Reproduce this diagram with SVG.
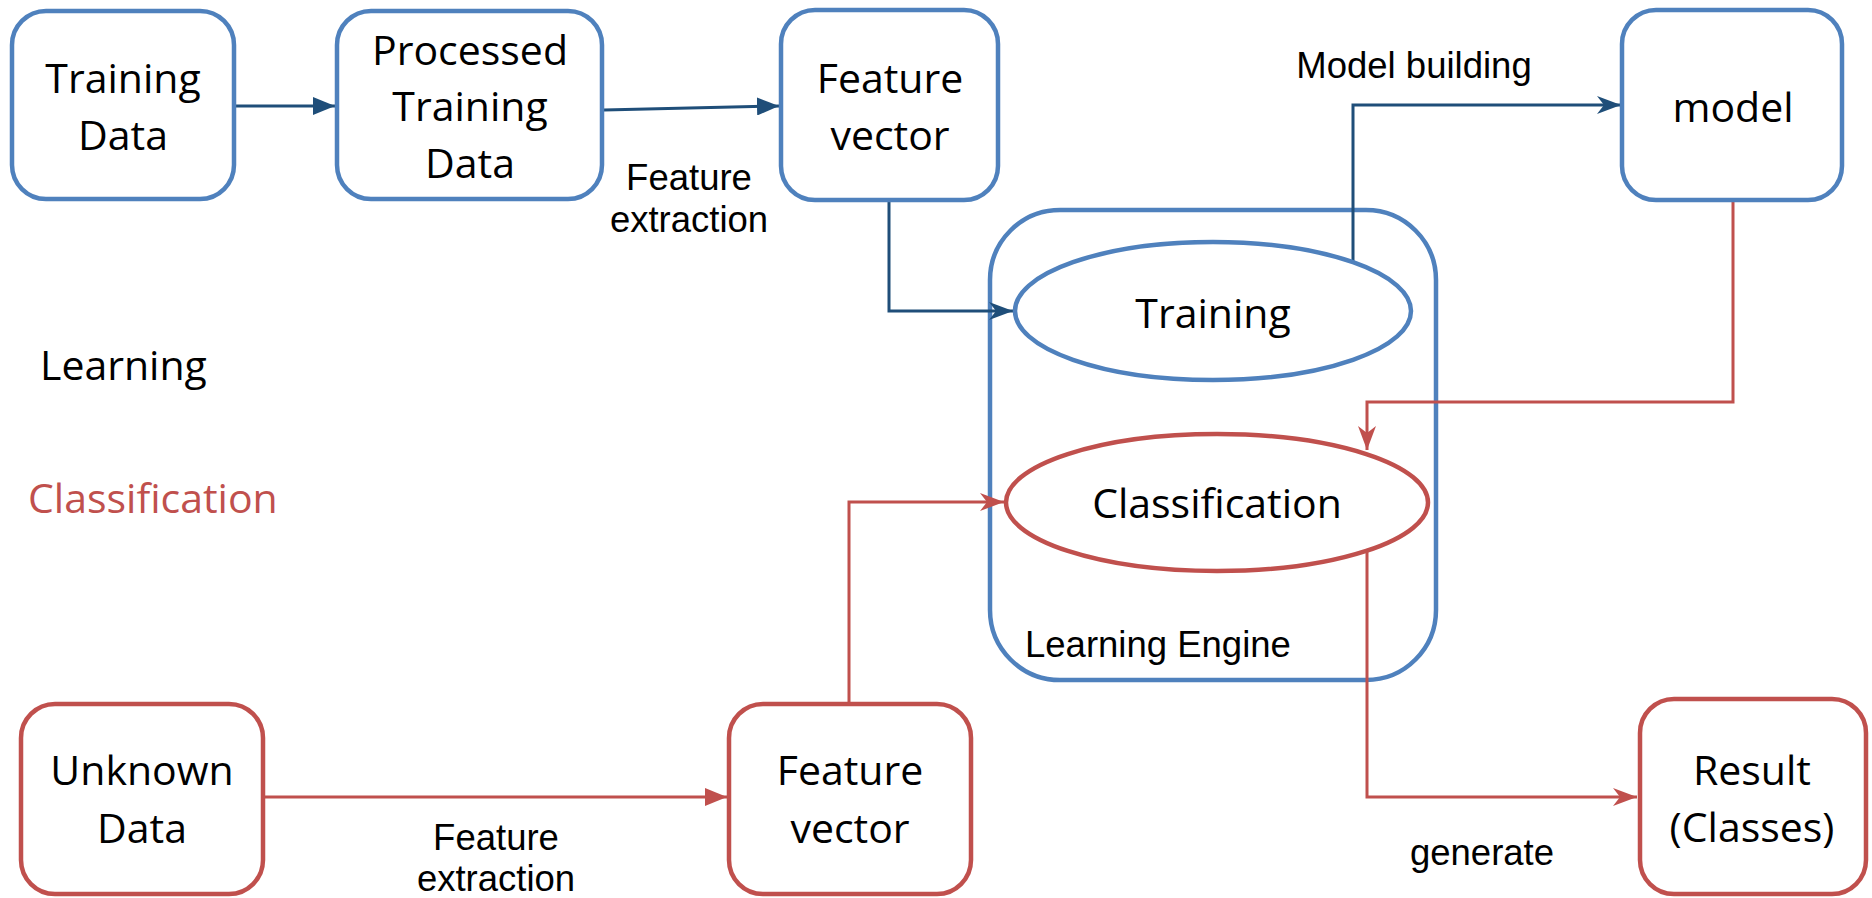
<svg xmlns="http://www.w3.org/2000/svg" width="1872" height="898" viewBox="0 0 1872 898">
  <style>
    .bg { fill: #ffffff; }
    .box-blue { fill: #ffffff; stroke: #4F81BD; stroke-width: 4.5; }
    .box-red { fill: #ffffff; stroke: #C0504D; stroke-width: 4.5; }
    .engine { fill: none; stroke: #4F81BD; stroke-width: 4.5; }
    .lbl { font-family: "Open Sans", "Noto Sans", sans-serif; font-size: 41px; fill: #000000; text-anchor: middle; }
    .side { font-family: "Open Sans", "Noto Sans", sans-serif; font-size: 41px; }
    .note { font-family: "Liberation Sans", Arial, sans-serif; font-size: 36.5px; fill: #000000; }
    .mid { text-anchor: middle; }
    .wire-blue { fill: none; stroke: #1F4E79; stroke-width: 3; }
    .wire-red { fill: none; stroke: #C0504D; stroke-width: 3; }
  </style>
  <defs>
    <marker id="tri-blue" markerUnits="userSpaceOnUse" markerWidth="22" markerHeight="18" refX="22" refY="9" orient="auto">
      <path d="M0,0 L22,9 L0,18 Z" fill="#1F4E79"/>
    </marker>
    <marker id="tri-red" markerUnits="userSpaceOnUse" markerWidth="22" markerHeight="18" refX="22" refY="9" orient="auto">
      <path d="M0,0 L22,9 L0,18 Z" fill="#C0504D"/>
    </marker>
    <marker id="stealth-blue" markerUnits="userSpaceOnUse" markerWidth="24" markerHeight="18" refX="24" refY="9" orient="auto">
      <path d="M0,0 L24,9 L0,18 L7,9 Z" fill="#1F4E79"/>
    </marker>
    <marker id="stealth-red" markerUnits="userSpaceOnUse" markerWidth="24" markerHeight="18" refX="24" refY="9" orient="auto">
      <path d="M0,0 L24,9 L0,18 L7,9 Z" fill="#C0504D"/>
    </marker>
  </defs>

  <rect class="bg" x="0" y="0" width="1872" height="898"/>

  <!-- side captions -->
  <text class="side" x="40" y="380" fill="#000000">Learning</text>
  <text class="side" x="28" y="513" fill="#C0504D">Classification</text>

  <!-- learning engine container -->
  <g id="learning-engine">
    <rect class="engine" x="990" y="210" width="446" height="470" rx="70" ry="70"/>
    <text class="note" x="1025" y="657">Learning Engine</text>
  </g>

  <!-- connectors -->
  <g id="connectors">
    <path class="wire-blue" d="M236,106 H335" marker-end="url(#tri-blue)"/>
    <path class="wire-blue" d="M604,110 L779,106" marker-end="url(#tri-blue)"/>
    <path class="wire-blue" d="M889,201 V311 H1013" marker-end="url(#stealth-blue)"/>
    <path class="wire-blue" d="M1353,262 V105 H1621" marker-end="url(#stealth-blue)"/>
    <path class="wire-red" d="M1733,201 V402 H1367 V450" marker-end="url(#stealth-red)"/>
    <path class="wire-red" d="M849,703 V502 H1004" marker-end="url(#stealth-red)"/>
    <path class="wire-red" d="M265,797 H727" marker-end="url(#tri-red)"/>
    <path class="wire-red" d="M1367,551 V797 H1637" marker-end="url(#stealth-red)"/>
    <text class="note mid" x="689" y="190">Feature</text>
    <text class="note mid" x="689" y="232">extraction</text>
    <text class="note mid" x="1414" y="78">Model building</text>
    <text class="note mid" x="496" y="850">Feature</text>
    <text class="note mid" x="496" y="891">extraction</text>
    <text class="note mid" x="1482" y="865">generate</text>
  </g>

  <!-- training pipeline -->
  <g id="training-data">
    <rect class="box-blue" x="12" y="11" width="222" height="188" rx="34" ry="34"/>
    <text class="lbl" x="123" y="93">Training</text>
    <text class="lbl" x="123" y="150">Data</text>
  </g>
  <g id="processed-training-data">
    <rect class="box-blue" x="337" y="11" width="265" height="188" rx="34" ry="34"/>
    <text class="lbl" x="470" y="65">Processed</text>
    <text class="lbl" x="470" y="121">Training</text>
    <text class="lbl" x="470" y="178">Data</text>
  </g>
  <g id="feature-vector-train">
    <rect class="box-blue" x="781" y="10" width="217" height="190" rx="34" ry="34"/>
    <text class="lbl" x="890" y="93">Feature</text>
    <text class="lbl" x="890" y="150">vector</text>
  </g>
  <g id="model">
    <rect class="box-blue" x="1622" y="10" width="220" height="190" rx="34" ry="34"/>
    <text class="lbl" x="1733" y="122">model</text>
  </g>
  <g id="training">
    <ellipse class="box-blue" cx="1213" cy="311" rx="198" ry="69"/>
    <text class="lbl" x="1213" y="328">Training</text>
  </g>
  <g id="classification">
    <ellipse class="box-red" cx="1217" cy="502.5" rx="211" ry="68.5"/>
    <text class="lbl" x="1217" y="518">Classification</text>
  </g>

  <!-- classification pipeline -->
  <g id="unknown-data">
    <rect class="box-red" x="21" y="704" width="242" height="190" rx="34" ry="34"/>
    <text class="lbl" x="142" y="785">Unknown</text>
    <text class="lbl" x="142" y="843">Data</text>
  </g>
  <g id="feature-vector-classify">
    <rect class="box-red" x="729" y="704" width="242" height="190" rx="34" ry="34"/>
    <text class="lbl" x="850" y="785">Feature</text>
    <text class="lbl" x="850" y="843">vector</text>
  </g>
  <g id="result">
    <rect class="box-red" x="1640" y="699" width="226" height="195" rx="34" ry="34"/>
    <text class="lbl" x="1752" y="785">Result</text>
    <text class="lbl" x="1752" y="842">(Classes)</text>
  </g>
</svg>
